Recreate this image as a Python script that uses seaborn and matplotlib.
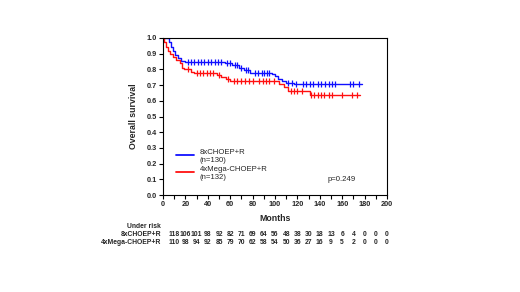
import numpy as np
import pandas as pd
import matplotlib
matplotlib.use("Agg")
import matplotlib.pyplot as plt
import matplotlib.transforms as mtransforms
import seaborn as sns

# ---- data ----
blue_label = "8xCHOEP+R"
blue_n = "(n=130)"
blue_times = [0, 5, 7, 9, 11, 13, 16, 20, 55, 62, 68, 72, 78, 97, 100, 103, 106, 110, 117, 122, 178]
blue_surv = [1.0, 0.975, 0.945, 0.92, 0.89, 0.87, 0.855, 0.85, 0.84, 0.825, 0.81, 0.795, 0.78, 0.77, 0.755, 0.74, 0.725, 0.715, 0.71, 0.705, 0.705]
blue_censor = [22, 25, 28, 31, 34, 37, 40, 43, 46, 49, 52, 57, 60, 64, 66, 70, 74, 76, 82, 85, 88, 90, 93, 95,
               112, 115, 119, 125, 128, 131, 134, 138, 141, 145, 148, 151, 154, 167, 170, 175]

red_label = "4xMega-CHOEP+R"
red_n = "(n=132)"
red_times = [0, 1, 3, 4.5, 6, 9, 12, 15, 17, 19, 25, 28, 48, 52, 56, 60, 104, 108, 112, 131, 176]
red_surv = [1.0, 0.975, 0.945, 0.92, 0.9, 0.88, 0.86, 0.84, 0.81, 0.80, 0.785, 0.775, 0.765, 0.75, 0.74, 0.728, 0.71, 0.69, 0.66, 0.64, 0.64]
red_censor = [22, 30, 33, 36, 39, 42, 45, 50, 58, 63, 66, 70, 73, 77, 80, 86, 89, 92, 95, 99,
              114, 117, 120, 124, 132, 135, 138, 141, 144, 148, 151, 160, 169, 173]

p_text = "p=0.249"
risk_times = list(range(10, 201, 10))
risk_blue = [118, 106, 101, 98, 92, 82, 71, 69, 64, 56, 48, 38, 30, 18, 13, 6, 4, 0, 0, 0]
risk_red = [110, 98, 94, 92, 85, 79, 70, 62, 58, 54, 50, 36, 27, 16, 9, 5, 2, 0, 0, 0]
x_ticks = list(range(0, 201, 20))
y_ticks = [round(v * 0.1, 1) for v in range(11)]

sns.set_theme(style="white")
plt.rcParams["font.family"] = ["Liberation Sans", "DejaVu Sans"]
plt.rcParams["font.weight"] = "bold"

fig = plt.figure(figsize=(5.2, 2.92), dpi=100)
ax = fig.add_axes([163 / 520, 1 - 195 / 292, (387 - 163) / 520, (195 - 38) / 292])

def step_at(times, surv, t):
    idx = np.searchsorted(times, t, side="right") - 1
    return surv[idx]

for times, surv, cens, col in [(blue_times, blue_surv, blue_censor, "#1010ff"),
                               (red_times, red_surv, red_censor, "#ff1010")]:
    df = pd.DataFrame({"t": times, "s": surv})
    sns.lineplot(data=df, x="t", y="s", drawstyle="steps-post", color=col, lw=1.0, ax=ax,
                 estimator=None, sort=False)
    cdf = pd.DataFrame({"t": cens, "s": [step_at(times, surv, c) for c in cens]})
    sns.scatterplot(data=cdf, x="t", y="s", marker="|", color=col, s=22, linewidth=0.9, ax=ax)

ax.set_xlim(0, 200)
ax.set_ylim(0, 1.0)
ax.set_xticks(x_ticks)
ax.set_xticks(range(0, 201, 10), minor=True)
ax.set_yticks(y_ticks)
ax.set_yticklabels([f"{v:.1f}" for v in y_ticks])
ax.tick_params(axis="both", which="both", direction="out", length=3, width=0.8, color="black",
               labelsize=5.3, pad=1.5, bottom=True, left=True)
for lab in ax.get_xticklabels() + ax.get_yticklabels():
    lab.set_fontweight("bold")
for sp in ax.spines.values():
    sp.set_visible(True)
    sp.set_color("black")
    sp.set_linewidth(0.8)
ax.set_xlabel("Months", fontsize=6.3, fontweight="bold", labelpad=4)
ax.set_ylabel("Overall survival", fontsize=6.3, fontweight="bold", labelpad=6)

# legend drawn in data coords
ax.plot([12, 28], [0.255, 0.255], color="#1010ff", lw=1.3)
ax.plot([12, 28], [0.145, 0.145], color="#ff1010", lw=1.3)
ax.text(33, 0.272, blue_label, fontsize=5.6, va="center", ha="left", fontweight="normal")
ax.text(33, 0.222, blue_n, fontsize=5.6, va="center", ha="left", fontweight="normal")
ax.text(33, 0.165, red_label, fontsize=5.6, va="center", ha="left", fontweight="normal")
ax.text(33, 0.113, red_n, fontsize=5.6, va="center", ha="left", fontweight="normal")
ax.text(147, 0.1, p_text, fontsize=5.6, va="center", ha="left", fontweight="normal")

# number at risk table
trans = mtransforms.blended_transform_factory(ax.transData, fig.transFigure)
lab_x = 161 / 520
fig.text(lab_x, 1 - 227 / 292, "Under risk", fontsize=4.9, ha="right", va="center", fontweight="bold")
fig.text(lab_x, 1 - 235 / 292, blue_label, fontsize=4.9, ha="right", va="center", fontweight="bold")
fig.text(lab_x, 1 - 243 / 292, red_label, fontsize=4.9, ha="right", va="center", fontweight="bold")
for t, b, r in zip(risk_times, risk_blue, risk_red):
    ax.text(t, 1 - 235 / 292, str(b), transform=trans, fontsize=4.9, ha="center", va="center",
            fontweight="bold", clip_on=False)
    ax.text(t, 1 - 243 / 292, str(r), transform=trans, fontsize=4.9, ha="center", va="center",
            fontweight="bold", clip_on=False)

fig.savefig("out.png", dpi=100, facecolor="white")
